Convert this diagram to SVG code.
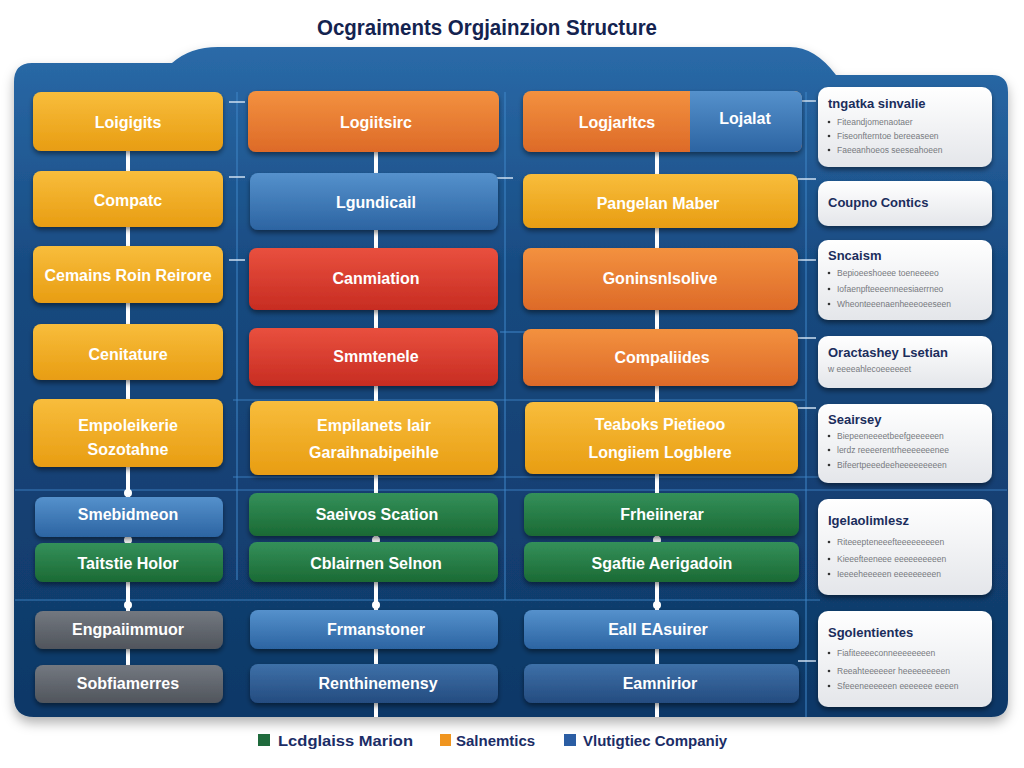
<svg xmlns="http://www.w3.org/2000/svg" width="1024" height="768" viewBox="0 0 1024 768">
<defs>
<linearGradient id="gPanel" x1="0" y1="0" x2="0" y2="1">
<stop offset="0" stop-color="#2a6aa8"/><stop offset="0.35" stop-color="#17497f"/><stop offset="1" stop-color="#0f3867"/>
</linearGradient>
<linearGradient id="gYel" x1="0" y1="0" x2="0" y2="1"><stop offset="0" stop-color="#f8bd3c"/><stop offset="1" stop-color="#e89d12"/></linearGradient>
<linearGradient id="gOra" x1="0" y1="0" x2="0" y2="1"><stop offset="0" stop-color="#f3913f"/><stop offset="1" stop-color="#dd6a28"/></linearGradient>
<linearGradient id="gRed" x1="0" y1="0" x2="0" y2="1"><stop offset="0" stop-color="#e9503e"/><stop offset="1" stop-color="#c72c22"/></linearGradient>
<linearGradient id="gBlu" x1="0" y1="0" x2="0" y2="1"><stop offset="0" stop-color="#5591cc"/><stop offset="1" stop-color="#2c64a2"/></linearGradient>
<linearGradient id="gDBlu" x1="0" y1="0" x2="0" y2="1"><stop offset="0" stop-color="#3e70a8"/><stop offset="1" stop-color="#244c80"/></linearGradient>
<linearGradient id="gGrn" x1="0" y1="0" x2="0" y2="1"><stop offset="0" stop-color="#34905a"/><stop offset="1" stop-color="#1b6a34"/></linearGradient>
<linearGradient id="gGry" x1="0" y1="0" x2="0" y2="1"><stop offset="0" stop-color="#737880"/><stop offset="1" stop-color="#50555c"/></linearGradient>
<linearGradient id="gCard" x1="0" y1="0" x2="0" y2="1"><stop offset="0" stop-color="#ffffff"/><stop offset="1" stop-color="#e4e6ea"/></linearGradient>
<filter id="sh" x="-10%" y="-20%" width="120%" height="150%"><feDropShadow dx="0" dy="3" stdDeviation="2.5" flood-color="#000" flood-opacity="0.45"/></filter>
<filter id="psh" x="-5%" y="-5%" width="110%" height="115%"><feDropShadow dx="0" dy="6" stdDeviation="6" flood-color="#000" flood-opacity="0.3"/></filter>
</defs>
<style>
.lbl{font-family:"Liberation Sans",Arial,sans-serif;font-weight:bold;font-size:16px;fill:#ffffff;text-anchor:middle;dominant-baseline:central}
.ct{font-family:"Liberation Sans",Arial,sans-serif;font-weight:bold;font-size:13px;fill:#1b2d5c;dominant-baseline:central}
.cb{font-family:"Liberation Sans",Arial,sans-serif;font-size:8.5px;fill:#777a80;dominant-baseline:central}
.dot{fill:#333}
.grid{stroke:#3f86c8;stroke-width:1.2;fill:none;opacity:0.85}
.tick{stroke:#cfe0f2;stroke-width:1.5}
.conn{stroke:#ffffff;stroke-width:4;fill:none}
.cdot{fill:#ffffff}
.leg{font-family:"Liberation Sans",Arial,sans-serif;font-weight:bold;font-size:15px;fill:#1b2d66;dominant-baseline:central}
.box{filter:url(#sh)}
.card{fill:url(#gCard);filter:url(#sh)}
</style>
<rect width="1024" height="768" fill="#ffffff"/>
<text x="487" y="35" font-family="Liberation Sans, Arial, sans-serif" font-weight="bold" font-size="22" fill="#14234f" text-anchor="middle" textLength="340" lengthAdjust="spacingAndGlyphs">Ocgraiments Orgjainzion Structure</text>
<g id="panel">
<path d="M 32 63 L 172 63 Q 190 47 218 47 L 790 47 Q 815 47 836 75 L 992 75 Q 1008 75 1008 92 L 1008 700 Q 1008 717 991 717 L 34 717 Q 14 717 14 697 L 14 82 Q 14 63 32 63 Z" fill="url(#gPanel)" filter="url(#psh)"/>
</g>
<g id="grid">
<line class="grid" x1="237" y1="92" x2="237" y2="580"/>
<line class="grid" x1="505" y1="92" x2="505" y2="600"/>
<line class="grid" x1="806" y1="92" x2="806" y2="717"/>
<line class="grid" x1="15" y1="490" x2="1007" y2="490"/>
<line class="grid" x1="15" y1="600" x2="820" y2="600"/>
<line class="grid" x1="233" y1="400" x2="805" y2="400"/>
<line class="grid" x1="233" y1="477" x2="818" y2="477"/>
<line class="grid" x1="500" y1="332" x2="525" y2="332"/>
<line class="tick" x1="229" y1="102" x2="245" y2="102"/>
<line class="tick" x1="229" y1="177" x2="245" y2="177"/>
<line class="tick" x1="229" y1="260" x2="245" y2="260"/>
<line class="tick" x1="497" y1="178" x2="513" y2="178"/>
<line class="tick" x1="798" y1="101" x2="816" y2="101"/>
<line class="tick" x1="798" y1="179" x2="816" y2="179"/>
<line class="tick" x1="798" y1="260" x2="816" y2="260"/>
<line class="tick" x1="798" y1="338" x2="816" y2="338"/>
<line class="tick" x1="798" y1="408" x2="816" y2="408"/>
<line class="tick" x1="798" y1="661" x2="816" y2="661"/>
</g>
<g id="connectors">
<line class="conn" x1="128" y1="150" x2="128" y2="666"/>
<line class="conn" x1="376" y1="150" x2="376" y2="717"/>
<line class="conn" x1="657" y1="150" x2="657" y2="717"/>
<circle class="cdot" cx="128" cy="493" r="4"/>
<circle class="cdot" cx="128" cy="540" r="4"/>
<circle class="cdot" cx="128" cy="605" r="4"/>
<circle class="cdot" cx="376" cy="540" r="4"/>
<circle class="cdot" cx="376" cy="605" r="4"/>
<circle class="cdot" cx="657" cy="540" r="4"/>
<circle class="cdot" cx="657" cy="605" r="4"/>
</g>
<g id="col1">
<g id="n1-1"><rect class="box" x="33" y="92" width="190" height="59" rx="8" fill="url(#gYel)"/><text class="lbl" x="128" y="122">Loigigits</text></g>
<g id="n1-2"><rect class="box" x="33" y="171" width="190" height="56" rx="8" fill="url(#gYel)"/><text class="lbl" x="128" y="200">Compatc</text></g>
<g id="n1-3"><rect class="box" x="33" y="246" width="190" height="57" rx="8" fill="url(#gYel)"/><text class="lbl" x="128" y="275">Cemains Roin Reirore</text></g>
<g id="n1-4"><rect class="box" x="33" y="324" width="190" height="56" rx="8" fill="url(#gYel)"/><text class="lbl" x="128" y="354">Cenitature</text></g>
<g id="n1-5"><rect class="box" x="33" y="399" width="190" height="68" rx="8" fill="url(#gYel)"/><text class="lbl" x="128" y="425">Empoleikerie</text><text class="lbl" x="128" y="449">Sozotahne</text></g>
<g id="n1-6"><rect class="box" x="35" y="497" width="188" height="40" rx="8" fill="url(#gBlu)"/><text class="lbl" x="128" y="514">Smebidmeon</text></g>
<g id="n1-7"><rect class="box" x="35" y="543" width="188" height="39" rx="8" fill="url(#gGrn)"/><text class="lbl" x="128" y="563">Taitstie Holor</text></g>
<g id="n1-8"><rect class="box" x="35" y="611" width="188" height="38" rx="8" fill="url(#gGry)"/><text class="lbl" x="128" y="629">Engpaiimmuor</text></g>
<g id="n1-9"><rect class="box" x="35" y="665" width="188" height="38" rx="8" fill="url(#gGry)"/><text class="lbl" x="128" y="683">Sobfiamerres</text></g>
</g>
<g id="col2">
<g id="n2-1"><rect class="box" x="248" y="91" width="251" height="61" rx="8" fill="url(#gOra)"/><text class="lbl" x="376" y="122">Logiitsirc</text></g>
<g id="n2-2"><rect class="box" x="250" y="173" width="248" height="57" rx="8" fill="url(#gBlu)"/><text class="lbl" x="376" y="202">Lgundicail</text></g>
<g id="n2-3"><rect class="box" x="249" y="248" width="249" height="62" rx="8" fill="url(#gRed)"/><text class="lbl" x="376" y="278">Canmiation</text></g>
<g id="n2-4"><rect class="box" x="249" y="328" width="249" height="58" rx="8" fill="url(#gRed)"/><text class="lbl" x="376" y="356">Smmtenele</text></g>
<g id="n2-5"><rect class="box" x="250" y="401" width="248" height="74" rx="8" fill="url(#gYel)"/><text class="lbl" x="374" y="425">Empilanets lair</text><text class="lbl" x="374" y="452">Garaihnabipeihle</text></g>
<g id="n2-6"><rect class="box" x="249" y="493" width="249" height="43" rx="8" fill="url(#gGrn)"/><text class="lbl" x="377" y="514">Saeivos Scation</text></g>
<g id="n2-7"><rect class="box" x="249" y="542" width="249" height="40" rx="8" fill="url(#gGrn)"/><text class="lbl" x="376" y="563">Cblairnen Selnon</text></g>
<g id="n2-8"><rect class="box" x="250" y="610" width="248" height="39" rx="8" fill="url(#gBlu)"/><text class="lbl" x="376" y="629">Frmanstoner</text></g>
<g id="n2-9"><rect class="box" x="250" y="664" width="248" height="39" rx="8" fill="url(#gDBlu)"/><text class="lbl" x="378" y="683">Renthinemensy</text></g>
</g>
<g id="col3">
<g id="n3-1"><rect class="box" x="523" y="91" width="279" height="61" rx="8" fill="url(#gOra)"/><path d="M 690 91 L 794 91 Q 802 91 802 99 L 802 144 Q 802 152 794 152 L 690 152 Z" fill="url(#gBlu)"/><text class="lbl" x="617" y="122">Logjarltcs</text><text class="lbl" x="745" y="118">Lojalat</text></g>
<g id="n3-2"><rect class="box" x="523" y="174" width="275" height="54" rx="8" fill="url(#gYel)"/><text class="lbl" x="658" y="203">Pangelan Maber</text></g>
<g id="n3-3"><rect class="box" x="523" y="248" width="275" height="62" rx="8" fill="url(#gOra)"/><text class="lbl" x="660" y="278">Goninsnlsolive</text></g>
<g id="n3-4"><rect class="box" x="523" y="329" width="275" height="57" rx="8" fill="url(#gOra)"/><text class="lbl" x="662" y="357">Compaliides</text></g>
<g id="n3-5"><rect class="box" x="525" y="402" width="273" height="72" rx="8" fill="url(#gYel)"/><text class="lbl" x="660" y="424">Teaboks Pietieoo</text><text class="lbl" x="660" y="452">Longiiem Logblere</text></g>
<g id="n3-6"><rect class="box" x="524" y="493" width="275" height="43" rx="8" fill="url(#gGrn)"/><text class="lbl" x="662" y="514">Frheiinerar</text></g>
<g id="n3-7"><rect class="box" x="524" y="542" width="275" height="40" rx="8" fill="url(#gGrn)"/><text class="lbl" x="662" y="563">Sgaftie Aerigadoin</text></g>
<g id="n3-8"><rect class="box" x="524" y="610" width="275" height="39" rx="8" fill="url(#gBlu)"/><text class="lbl" x="658" y="629">Eall EAsuirer</text></g>
<g id="n3-9"><rect class="box" x="524" y="664" width="275" height="39" rx="8" fill="url(#gDBlu)"/><text class="lbl" x="660" y="683">Eamnirior</text></g>
</g>
<g id="cards">
<g id="c1"><rect class="card" x="818" y="87" width="174" height="80" rx="10"/><text class="ct" x="828" y="103">tngatka sinvalie</text>
<circle class="dot" cx="829" cy="122" r="1.3"/><text class="cb" x="837" y="122">Fiteandjomenaotaer</text>
<circle class="dot" cx="829" cy="136" r="1.3"/><text class="cb" x="837" y="136">Fiseonfterntoe bereeaseen</text>
<circle class="dot" cx="829" cy="150" r="1.3"/><text class="cb" x="837" y="150">Faeeanhoeos seeseahoeen</text></g>
<g id="c2"><rect class="card" x="818" y="181" width="174" height="45" rx="10"/><text class="ct" x="828" y="202">Coupno Contics</text></g>
<g id="c3"><rect class="card" x="818" y="240" width="174" height="80" rx="10"/><text class="ct" x="828" y="255">Sncaism</text>
<circle class="dot" cx="829" cy="273" r="1.3"/><text class="cb" x="837" y="273">Bepioeeshoeee toeneeeeo</text>
<circle class="dot" cx="829" cy="289" r="1.3"/><text class="cb" x="837" y="289">Iofaenpfteeeenneesiaerrneo</text>
<circle class="dot" cx="829" cy="304" r="1.3"/><text class="cb" x="837" y="304">Wheonteeenaenheeeoeeseen</text></g>
<g id="c4"><rect class="card" x="818" y="336" width="174" height="52" rx="10"/><text class="ct" x="828" y="352">Oractashey Lsetian</text><text class="cb" x="828" y="369">w eeeeahlecoeeeeeet</text></g>
<g id="c5"><rect class="card" x="818" y="404" width="174" height="79" rx="10"/><text class="ct" x="828" y="419">Seairsey</text>
<circle class="dot" cx="829" cy="436" r="1.3"/><text class="cb" x="837" y="436">Biepeeneeeetbeefgeeeeeen</text>
<circle class="dot" cx="829" cy="450" r="1.3"/><text class="cb" x="837" y="450">lerdz reeeerentrheeeeeeenee</text>
<circle class="dot" cx="829" cy="465" r="1.3"/><text class="cb" x="837" y="465">Bifeertpeeedeeheeeeeeeeen</text></g>
<g id="c6"><rect class="card" x="818" y="499" width="174" height="96" rx="10"/><text class="ct" x="828" y="520" font-size="14">Igelaolimlesz</text>
<circle class="dot" cx="829" cy="542" r="1.3"/><text class="cb" x="837" y="542">Riteeepteneeefteeeeeeeeen</text>
<circle class="dot" cx="829" cy="559" r="1.3"/><text class="cb" x="837" y="559">Kieeefteeneee eeeeeeeeeen</text>
<circle class="dot" cx="829" cy="574" r="1.3"/><text class="cb" x="837" y="574">Ieeeeheeeeen eeeeeeeeen</text></g>
<g id="c7"><rect class="card" x="818" y="611" width="174" height="96" rx="10"/><text class="ct" x="828" y="632" font-size="14">Sgolentientes</text>
<circle class="dot" cx="829" cy="653" r="1.3"/><text class="cb" x="837" y="653">Fiafiteeeeconneeeeeeeen</text>
<circle class="dot" cx="829" cy="671" r="1.3"/><text class="cb" x="837" y="671">Reeahteeeeeer heeeeeeeeen</text>
<circle class="dot" cx="829" cy="686" r="1.3"/><text class="cb" x="837" y="686">Sfeeeneeeeeen eeeeeee eeeen</text></g>
</g>
<g id="legend">
<rect x="258" y="734" width="12" height="12" fill="#1f6a3c"/><text class="leg" x="278" y="740" textLength="135" lengthAdjust="spacingAndGlyphs">Lcdglaiss Marion</text>
<rect x="440" y="734" width="11" height="12" fill="#f0951f"/><text class="leg" x="456" y="740">Salnemtics</text>
<rect x="564" y="734" width="12" height="12" fill="#2b5da3"/><text class="leg" x="583" y="740">Vlutigtiec Companiy</text>
</g>
</svg>
